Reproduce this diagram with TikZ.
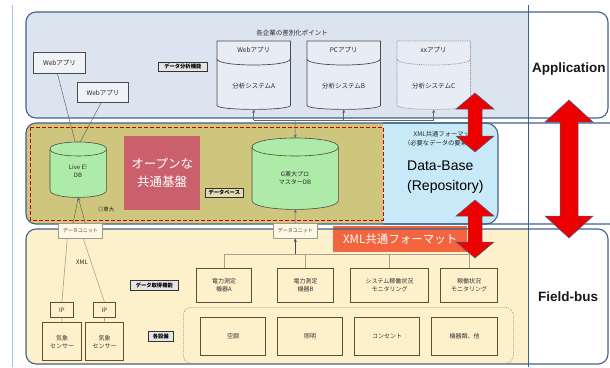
\documentclass[tikz,border=0pt]{standalone}
\usepackage{fontspec}
\setmainfont{Liberation Sans}
\newfontfamily\jp{Noto Sans CJK JP}
\usetikzlibrary{arrows.meta,calc}
\definecolor{rowline}{HTML}{41608F}
\definecolor{appfill}{HTML}{DCE4EF}
\definecolor{olivefill}{HTML}{CEC67C}
\definecolor{dbblue}{HTML}{C8E9F8}
\definecolor{fieldfill}{HTML}{FDF1CB}
\definecolor{redbox}{HTML}{C9606C}
\definecolor{xmlred}{HTML}{F2653F}
\definecolor{greendb}{HTML}{AEEBA8}
\definecolor{boxline}{HTML}{5B5236}
\definecolor{arrred}{HTML}{EE0000}
\definecolor{sideblue}{HTML}{A9C3E6}
\newcommand\vdarrow[6]{% center x, top, bottom, shaft half, head half, head length
  \filldraw[dblarr] (#1,#2) -- ({#1+#5},{#2+#6}) -- ({#1+#4},{#2+#6}) -- ({#1+#4},{#3-#6}) -- ({#1+#5},{#3-#6}) -- (#1,#3) -- ({#1-#5},{#3-#6}) -- ({#1-#4},{#3-#6}) -- ({#1-#4},{#2+#6}) -- ({#1-#5},{#2+#6}) -- cycle;}
\newcommand\appcyl[5]{% name, x, header, body, style
  \node[minimum width=73pt, minimum height=68pt, anchor=north west, inner sep=0pt] (#1) at (#2,41) {};
  \filldraw[#5] (#1.north west) -- (#1.north east) -- ($(#1.south east)+(0,-4)$) .. controls ($(#1.south east)+(0,1.3)$) and ($(#1.south west)+(0,1.3)$) .. ($(#1.south west)+(0,-4)$) -- cycle;
  \draw[#5] ($(#1.north west)+(0,18)$) -- ($(#1.north east)+(0,18)$);
  \draw[#5] ($(#1.north west)+(0,18)$) .. controls ($(#1.north west)+(0,26)$) and ($(#1.north east)+(0,26)$) .. ($(#1.north east)+(0,18)$);
  \node[jp] at ($(#1.north)+(0,9)$) {#3};
  \node[jp] at ($(#1.north)+(0,45)$) {#4};}
\newcommand\dbcyl[6]{% name, x, y, w, h, ry
  \node[minimum width=#4pt, minimum height=#5pt, anchor=north west, inner sep=0pt] (#1) at (#2,#3) {};
  \filldraw[dbc] ($(#1.north west)+(0,#6)$) -- ($(#1.south west)+(0,-#6)$) .. controls ($(#1.south west)+(0,{#6/3})$) and ($(#1.south east)+(0,{#6/3})$) .. ($(#1.south east)+(0,-#6)$) -- ($(#1.north east)+(0,#6)$) .. controls ($(#1.north east)+(0,{-#6/3})$) and ($(#1.north west)+(0,{-#6/3})$) .. ($(#1.north west)+(0,#6)$) -- cycle;
  \draw[dbc, fill=none] ($(#1.north west)+(0,#6)$) .. controls ($(#1.north west)+(0,{#6*7/3})$) and ($(#1.north east)+(0,{#6*7/3})$) .. ($(#1.north east)+(0,#6)$);}
\begin{document}
\begin{tikzpicture}[x=1pt,y=-1pt,
  jp/.style={font=\jp\fontsize{6.5}{8}\selectfont, text=black!85, align=center, inner sep=0pt},
  sjp/.style={font=\jp\fontsize{5.5}{6.5}\selectfont, text=black!85, align=center, inner sep=0pt},
  pbox/.style={draw=boxline, line width=1pt, font=\jp\fontsize{6}{8}\selectfont, text=black!80, align=center, anchor=north west, inner sep=0pt},
  wbox/.style={draw=black!70, line width=1pt, fill=white!55!appfill, jp, anchor=north west},
  tag/.style={draw=black!80, line width=0.6pt, fill=black!10, font=\jp\bfseries\fontsize{5.3}{6}\selectfont, text=black, inner sep=0pt, anchor=north west},
  unit/.style={draw=black!40, fill=fieldfill!50!white, line width=0.5pt, minimum width=44pt, minimum height=15pt, anchor=north west, inner sep=0pt, font=\jp\fontsize{5}{6}\selectfont, text=black!75},
  conn/.style={draw=black!60, line width=0.5pt},
  conn2/.style={draw=boxline!55, line width=0.6pt},
  tip/.style={-{Stealth[length=3.5pt,width=3pt]}},
  dblarr/.style={fill=arrred, draw=rowline, line width=0.5pt},
  row/.style={draw=rowline, line width=1.1pt},
  acyl/.style={draw=black!70, line width=0.7pt, fill=white!35!appfill},
  acyld/.style={draw=black!40, line width=0.7pt, dash pattern=on 1pt off 0.8pt, fill=white!35!appfill},
  dbc/.style={draw=black!70, line width=0.6pt, fill=greendb},
  side/.style={font=\bfseries\fontsize{13.5}{16}\selectfont, text=black!90, anchor=west, inner sep=0pt}]
\useasboundingbox (0,0) rectangle (610,367);
% ---------- backgrounds
\draw[sideblue, line width=0.8pt] (12,5) -- (12,367);
\fill[white, rounded corners=10] (26,12) rectangle (608,118);
\begin{scope}
  \clip[rounded corners=10] (26,12) rectangle (608,118);
  \fill[appfill] (26,12) rectangle (528,118);
\end{scope}
\fill[olivefill, rounded corners=10] (26,123) rectangle (392,224);
\fill[white, rounded corners=10] (26,229) rectangle (608,364);
\begin{scope}
  \clip[rounded corners=10] (26,229) rectangle (608,364);
  \fill[fieldfill] (26,229) rectangle (528,364);
\end{scope}
\node[fill=xmlred, minimum width=134pt, minimum height=26pt, anchor=north west, inner sep=0pt, font=\jp\fontsize{11.5}{13}\selectfont, text=white] (xmlf) at (333,226) {XML共通フォーマット};
\begin{scope}
  \clip (383,100) rectangle (540,250);
  \filldraw[fill=dbblue, row, rounded corners=12] (360,123) rectangle (498,224);
\end{scope}
\draw[row, rounded corners=10] (26,12) rectangle (608,118);
\begin{scope}
  \clip (0,0) rectangle (610,367);
  \draw[row, rounded corners=10] (26,123) rectangle (650,224);
\end{scope}
\draw[row, rounded corners=10] (26,229) rectangle (608,364);
\draw[rowline, line width=0.9pt] (528,5) -- (528,367);
\draw[red!80!black, line width=0.9pt, dash pattern=on 4pt off 2pt] (30,127) rectangle (383,220);
% ---------- application row
\node[wbox, minimum width=52pt, minimum height=21pt] (wa1) at (33,52) {Webアプリ};
\node[wbox, minimum width=51pt, minimum height=20pt] (wa2) at (77,82) {Webアプリ};
\node[tag, minimum width=49pt, minimum height=9pt] (tana) at (158,62) {データ分析機能};
\node[jp] (diff) at (292,33) {各企業の差別化ポイント};
\appcyl{sa}{217}{Webアプリ}{分析システムA}{acyl}
\appcyl{sb}{307}{PCアプリ}{分析システムB}{acyl}
\appcyl{sc}{397}{xxアプリ}{分析システムC}{acyld}
% ---------- database row
\dbcyl{le}{50}{142}{56}{55}{7}
\node[jp, font=\jp\fontsize{6}{8}\selectfont] (let) at (78,171) {Live E!\\DB};
\node[fill=redbox, minimum width=76pt, minimum height=74pt, anchor=north west, inner sep=0pt, font=\jp\fontsize{12.5}{18}\selectfont, text=white, align=center] (ob) at (124,136) {オープンな\\共通基盤};
\node[tag, fill=olivefill!60!white, minimum width=38pt, minimum height=9pt] (tdb) at (205,188) {データベース};
\node[sjp] (todai) at (106,209) {◎東大};
\dbcyl{gdb}{252}{138}{86}{71}{9}
\node[jp, font=\jp\fontsize{6}{8}\selectfont] (gdbt) at (295,178) {G東大プロ\\マスターDB};
\node[jp, font=\jp\fontsize{6.3}{9}\selectfont] (xmln) at (445,138.5) {XML共通フォーマット\\（必要なデータの要素など）};
\node[font=\fontsize{14}{20}\selectfont, align=left, anchor=west, inner sep=0pt] (dbt) at (407,177) {Data-Base\\(Repository)};
% ---------- field row
\node[unit] (du1) at (58,223) {データユニット};
\node[unit] (du2) at (273,223) {データユニット};
\node[pbox, line width=0.8pt, minimum width=23pt, minimum height=15pt] (ip1) at (50,302) {IP};
\node[pbox, line width=0.8pt, minimum width=22pt, minimum height=15pt] (ip2) at (93,302) {IP};
\node[pbox, line width=1.3pt, minimum width=39pt, minimum height=38pt] (se1) at (42,322) {気象\\センサー};
\node[pbox, line width=1.3pt, minimum width=38pt, minimum height=38pt] (se2) at (85,322) {気象\\センサー};
\node[sjp, font=\jp\fontsize{6}{7}\selectfont] (xmll) at (82,262) {XML};
\node[tag, minimum width=48pt, minimum height=10pt] (tget) at (130,280) {データ取得機能};
\node[tag, minimum width=25pt, minimum height=10pt] (tset) at (148,331) {各設備};
\node[pbox, minimum width=55pt, minimum height=34pt] (pa) at (196,268) {電力測定\\機器A};
\node[pbox, minimum width=56pt, minimum height=34pt] (pb) at (277,268) {電力測定\\機器B};
\node[pbox, minimum width=78pt, minimum height=34pt] (pc) at (350,268) {システム稼働状況\\モニタリング};
\node[pbox, minimum width=57pt, minimum height=34pt] (pd) at (440,268) {稼働状況\\モニタリング};
\node[draw=boxline!60, line width=0.6pt, dash pattern=on 1pt off 1pt, rounded corners=8, minimum width=330pt, minimum height=56pt, anchor=north west, inner sep=0pt] (equip) at (183,307) {};
\node[pbox, minimum width=65pt, minimum height=38pt] (ac) at (200,317) {空調};
\node[pbox, minimum width=65pt, minimum height=38pt] (il) at (277,317) {照明};
\node[pbox, minimum width=65pt, minimum height=38pt] (co) at (354,317) {コンセント};
\node[pbox, minimum width=66pt, minimum height=38pt] (ki) at (431,317) {機器類、他};
% ---------- connectors
\coordinate (bt) at (295,120);
\draw[conn] (sa.south |- bt) -- (sc.south |- bt);
\draw[conn, tip] (sa.south |- bt) -- (sa.south);
\draw[conn, tip] (sb.south |- bt) -- (sb.south);
\draw[conn, tip] (sc.south |- bt) -- (sc.south);
\draw[conn, tip] (bt) -- (gdb.north);
\draw[conn] ($(wa1.south)+(-2,0)$) -- ($(le.north)+(-3,0)$);
\draw[conn] ($(wa2.south)+(-2,0)$) -- ($(le.north)+(2,0)$);
\draw[conn] ($(du1.north)+(-7,0)$) -- (le.south);
\draw[conn, tip] ($(du1.north)+(5,0)$) -- (le.south);
\draw[conn2] ($(du1.south)+(-13,0)$) -- (ip1.north);
\draw[conn2] ($(du1.south)+(3,0)$) -- (ip2.north);
\draw[conn2] (ip1.south) -- (se1.north);
\draw[conn2] (ip2.south) -- (se2.north);
\coordinate (bb) at (300,254);
\draw[conn2] (pa.north) -- (pa.north |- bb) -- (pd.north |- bb) -- (pd.north);
\draw[conn2] (pb.north) -- (pb.north |- bb);
\draw[conn2] (pc.north) -- (pc.north |- bb);
\draw[conn2, tip, draw=black!70] (du2.south |- bb) -- (du2.south);
\draw[conn, tip] (du2.north) -- (gdb.south);
% ---------- side labels
\node[side] (lapp) at (532,69) {Application};
\node[side] (lfb) at (538,297) {Field-bus};
% ---------- big arrows
\vdarrow{475}{93}{152}{7}{19}{16}
\vdarrow{475}{200}{258}{7}{19}{16}
\vdarrow{569}{100}{238}{9}{24}{22}
\end{tikzpicture}
\end{document}
